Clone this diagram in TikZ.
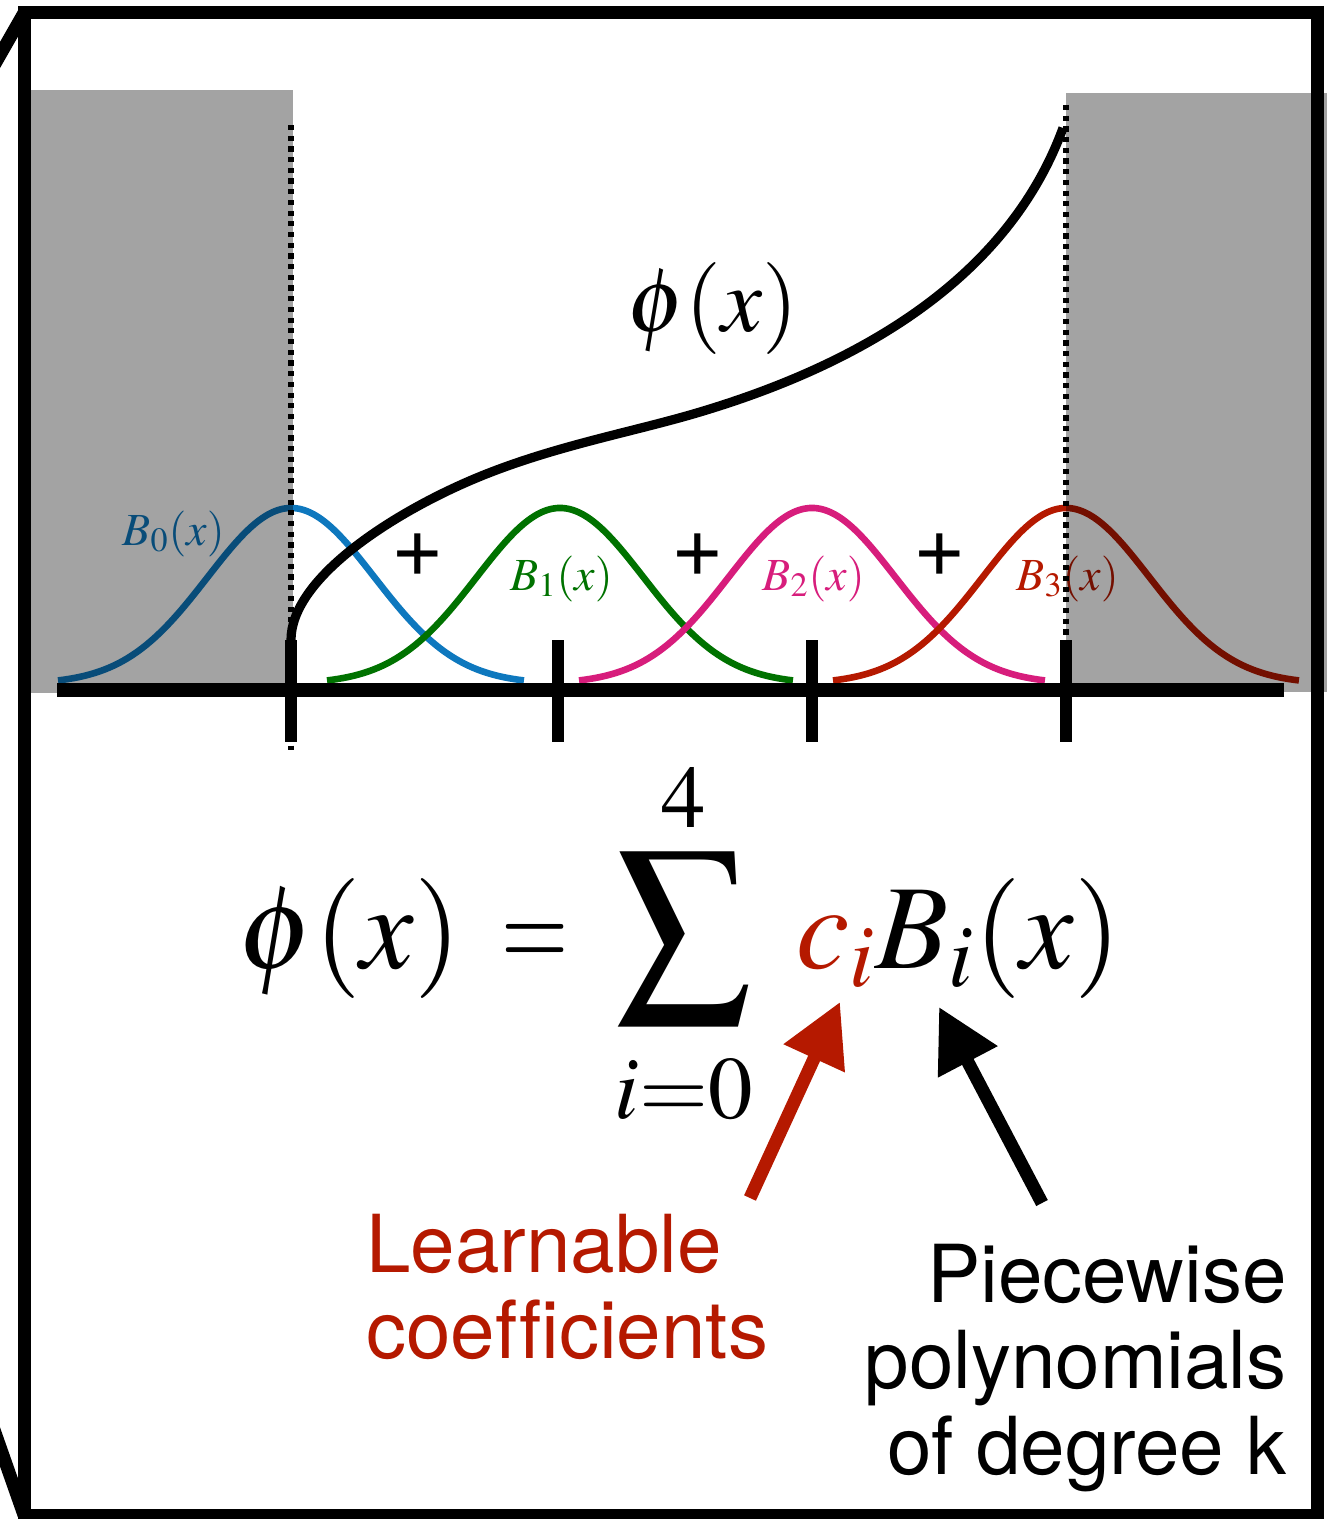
\documentclass[tikz,border=0pt]{standalone}
\usepackage[no-math]{fontspec}
\usepackage{mathptmx}
\usetikzlibrary{arrows.meta}
\newfontfamily\heros[Ligatures=NoCommon]{TeX Gyre Heros}
\definecolor{kblue}{RGB}{14,120,190}
\definecolor{kgreen}{RGB}{0,114,0}
\definecolor{kpink}{RGB}{215,29,124}
\definecolor{kred}{RGB}{181,25,0}
\newcommand{\bigsigma}{\mathop{\vcenter{\hbox{\scalebox{1.11}[1.16]{$\displaystyle\sum$}}}}\limits}
\newcommand{\narroweq}{\mathrel{\scalebox{0.72}[1]{$=$}}}
\begin{document}
\begin{tikzpicture}[x=0.5pt,y=-0.5pt,
  frame/.style={line width=6.5pt, line cap=butt},
  basis/.style={line width=3.3pt, line cap=butt},
  phicurve/.style={line width=4.6pt, line cap=butt},
  axisline/.style={line width=7pt, line cap=butt},
  tickmark/.style={line width=6pt, line cap=butt},
  dotline/.style={line width=2.7pt, dash pattern=on 2.6pt off 2.75pt},
  shade/.style={fill=black, fill opacity=0.36},
  fatarrow/.style={line width=6.5pt, line cap=butt, -{Triangle[length=31pt,width=32pt]}},
  blab/.style={anchor=base west, inner sep=0pt, font=\fontsize{23}{27}\selectfont},
  plussign/.style={inner sep=0pt, font=\heros\fontsize{45}{45}\selectfont},
  caption/.style={inner sep=0pt, font=\heros\fontsize{40}{43}\selectfont}
]
\clip (0,0) rectangle (1337,1519);
\useasboundingbox (0,0) rectangle (1337,1519);

% frame
\draw[frame] (24,13) rectangle (1317,1515);
\draw[frame] (24,13) -- (-20,90);
\draw[frame] (24,1515) -- (-20,1390);

% basis functions
\draw[basis, kblue]  plot[domain=-2.33:2.33, samples=90, smooth] ({291+100*\x},{684-176*exp(-\x*\x/1.392)});
\draw[basis, kgreen] plot[domain=-2.33:2.33, samples=90, smooth] ({560+100*\x},{684-176*exp(-\x*\x/1.392)});
\draw[basis, kpink]  plot[domain=-2.33:2.33, samples=90, smooth] ({812+100*\x},{684-176*exp(-\x*\x/1.392)});
\draw[basis, kred]   plot[domain=-2.33:2.33, samples=90, smooth] ({1066+100*\x},{684-176*exp(-\x*\x/1.392)});

\node[blab, text=kblue]  (b0) at (122,545) {$B_0(x)$};
\node[blab, text=kgreen] (b1) at (510,590) {$B_1(x)$};
\node[blab, text=kpink]  (b2) at (762,590) {$B_2(x)$};
\node[blab, text=kred]   (b3) at (1016,590) {$B_3(x)$};

\node[plussign] (p1) at (418,555) {+};
\node[plussign] (p2) at (698,555) {+};
\node[plussign] (p3) at (940,555) {+};

% phi curve
\draw[phicurve] (291,640) .. controls (291,580) and (387,517) .. (467,482)
  .. controls (547,447) and (630,433) .. (700,412)
  .. controls (820,376) and (1000,300) .. (1063,128);
\node[anchor=base west, inner sep=0pt, font=\fontsize{46}{50}\selectfont] (philab) at (627,332) {$\phi(x)$};

% dotted lines
\draw[dotline] (291,125) -- (291,750);
\draw[dotline] (1066,105) -- (1066,640);

% axis and ticks
\draw[axisline] (57,690) -- (1284,690);
\foreach \t/\n in {291/t0,558/t1,812/t2,1066/t3}{
  \draw[tickmark] (\t,640) -- (\t,742);
}

% shaded outside regions
\fill[shade] (24,90) rectangle (293,693);
\fill[shade] (1066,93) rectangle (1327,692);

% formula
\node[anchor=base west, inner sep=0pt, font=\fontsize{60}{70}\selectfont] (formula) at (238,968)
  {$\displaystyle \phi(x) \mskip 2mu \narroweq \mskip 3mu \bigsigma_{\rule{0pt}{37pt}i=0}^{4} \mskip 4.5mu {\color{kred}c_i} B_i(x)$};

% arrows
\coordinate (rtail) at (750,1198);
\coordinate (rtip) at (840,1002);
\coordinate (btail) at (1042,1203);
\coordinate (btip) at (939,1007);
\draw[fatarrow, kred] (rtail) -- (rtip);
\draw[fatarrow, black] (btail) -- (btip);

% captions
\node[caption, text=kred, anchor=base west, align=left] (learn) at (366,1358) {Learnable\\coefficients};
\node[caption, anchor=base east, align=right] (piece) at (1287,1474) {Piecewise\\polynomials\\of degree k};
\end{tikzpicture}
\end{document}
